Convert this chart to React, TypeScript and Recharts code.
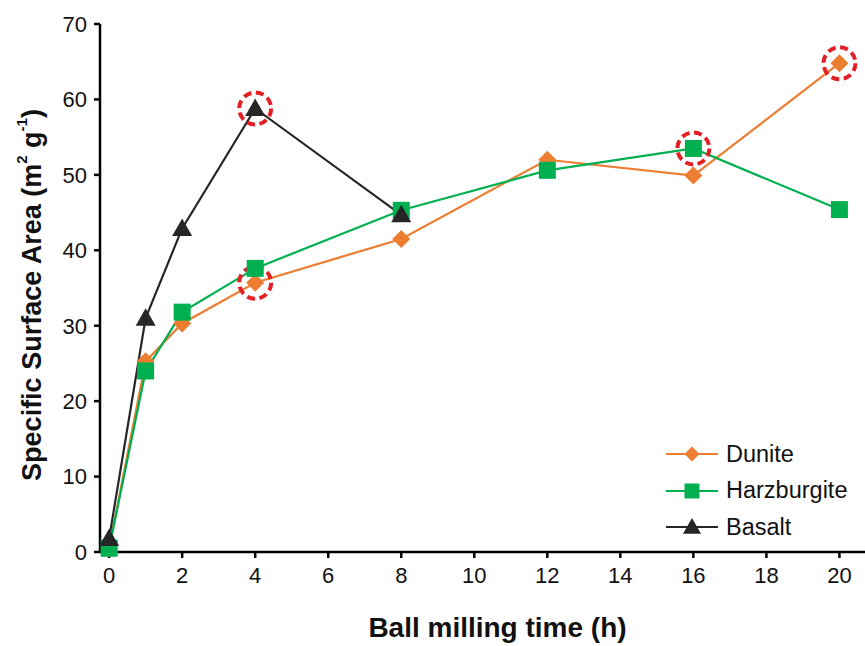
import { LineChart, Line, XAxis, YAxis, ReferenceDot } from 'recharts';

// milling times (h)
const duniteHours = [0, 1, 2, 4, 8, 12, 16, 20];
const duniteArea = [0.5, 25.3, 30.3, 35.7, 41.5, 52.0, 49.9, 64.8];

const harzHours = [0, 1, 2, 4, 8, 12, 16, 20];
const harzArea = [0.5, 24.0, 31.8, 37.6, 45.3, 50.6, 53.5, 45.4];

const basaltHours = [0, 1, 2, 4, 8];
const basaltArea = [1.8, 31.0, 42.9, 58.8, 44.7];

// points circled in red
const highlightHours = [4, 4, 16, 20];
const highlightArea = [58.8, 35.7, 53.5, 64.8];

const xTicks = [0, 2, 4, 6, 8, 10, 12, 14, 16, 18, 20];
const yTicks = [0, 10, 20, 30, 40, 50, 60, 70];

const ORANGE = '#ED7D31';
const GREEN = '#00B050';
const BLACK = '#262626';
const TEXT = '#111';
const FONT = 'Arial, "Liberation Sans", Helvetica, sans-serif';

const toRows = (xs: number[], ys: number[]) => xs.map((t, i) => ({ t, v: ys[i] }));

const Diamond = ({ cx, cy, s = 9 }: any) => (
    <path d={`M${cx},${cy - s}L${cx + s},${cy}L${cx},${cy + s}L${cx - s},${cy}Z`} fill={ORANGE} />
);
const Square = ({ cx, cy, s = 8.5 }: any) => (
    <rect x={cx - s} y={cy - s} width={s * 2} height={s * 2} fill={GREEN} />
);
const Triangle = ({ cx, cy, s = 10 }: any) => (
    <path d={`M${cx},${cy - s}L${cx + s},${cy + s * 0.75}L${cx - s},${cy + s * 0.75}Z`} fill={BLACK} />
);

const series = [
    { name: 'Dunite', color: ORANGE, data: toRows(duniteHours, duniteArea), Marker: Diamond },
    { name: 'Harzburgite', color: GREEN, data: toRows(harzHours, harzArea), Marker: Square },
    { name: 'Basalt', color: BLACK, data: toRows(basaltHours, basaltArea), Marker: Triangle },
];

const XLabel = ({ viewBox }: any) => (
    <text
        x={viewBox.x + viewBox.width / 2 + 15}
        y={627}
        textAnchor="middle"
        dominantBaseline="central"
        fontFamily={FONT}
        fontWeight="bold"
        fontSize={28}
        fill={TEXT}
    >
        Ball milling time (h)
    </text>
);

const YLabel = ({ viewBox }: any) => {
    const cy = viewBox.y + viewBox.height / 2 + 7;
    const x = 32;
    return (
        <text
            x={x}
            y={cy}
            transform={`rotate(-90, ${x}, ${cy})`}
            textAnchor="middle"
            dominantBaseline="central"
            fontFamily={FONT}
            fontWeight="bold"
            fontSize={27}
            fill={TEXT}
        >
            Specific Surface Area (m
            <tspan fontSize={15} dy={-11}>2</tspan>
            <tspan dy={11}> g</tspan>
            <tspan fontSize={15} dy={-11}>-1</tspan>
            <tspan dy={11}>)</tspan>
        </text>
    );
};

const LegendBox = () => (
    <div
        style={{
            position: 'absolute',
            left: 664,
            top: 436,
            fontFamily: FONT,
            fontSize: 23.5,
            color: TEXT,
        }}
    >
        {series.map(({ name, color, Marker }) => (
            <div key={name} style={{ display: 'flex', alignItems: 'center', height: 36.5 }}>
                <svg width={62} height={24}>
                    <line x1={2} y1={12} x2={54} y2={12} stroke={color} strokeWidth={2} />
                    <Marker cx={28} cy={12} s={name === 'Basalt' ? 9 : 7.5} />
                </svg>
                <span>{name}</span>
            </div>
        ))}
    </div>
);

export default function App() {
    return (
        <div style={{ position: 'absolute', left: 0, top: 0, width: 865, height: 646, background: '#fff' }}>
            <LineChart width={865} height={646} margin={{ top: 24, right: 0, bottom: 26, left: 0 }}>
                <XAxis
                    type="number"
                    dataKey="t"
                    domain={[-0.25, 20.7]}
                    ticks={xTicks}
                    interval={0}
                    allowDuplicatedCategory={false}
                    height={68}
                    stroke="#000"
                    strokeWidth={2.5}
                    tickSize={6}
                    tickMargin={9}
                    tick={{ fontSize: 22, fill: TEXT, fontFamily: FONT }}
                    label={<XLabel />}
                />
                <YAxis
                    type="number"
                    dataKey="v"
                    domain={[0, 70]}
                    ticks={yTicks}
                    interval={0}
                    width={100}
                    stroke="#000"
                    strokeWidth={2.5}
                    tickSize={6}
                    tickMargin={7}
                    tick={{ fontSize: 22, fill: TEXT, fontFamily: FONT }}
                    label={<YLabel />}
                />
                {highlightHours.map((t, i) => (
                    <ReferenceDot
                        key={`hl-${i}`}
                        x={t}
                        y={highlightArea[i]}
                        r={16}
                        fill="none"
                        stroke="#E31E24"
                        strokeWidth={4}
                        strokeDasharray="8 4.6"
                        ifOverflow="visible"
                    />
                ))}
                {series.map(({ name, color, data, Marker }) => (
                    <Line
                        key={name}
                        name={name}
                        data={data}
                        dataKey="v"
                        stroke={color}
                        strokeWidth={2.2}
                        isAnimationActive={false}
                        activeDot={false}
                        dot={(p: any) => <Marker key={`${name}-${p.index}`} cx={p.cx} cy={p.cy} />}
                    />
                ))}
            </LineChart>
            <LegendBox />
        </div>
    );
}
